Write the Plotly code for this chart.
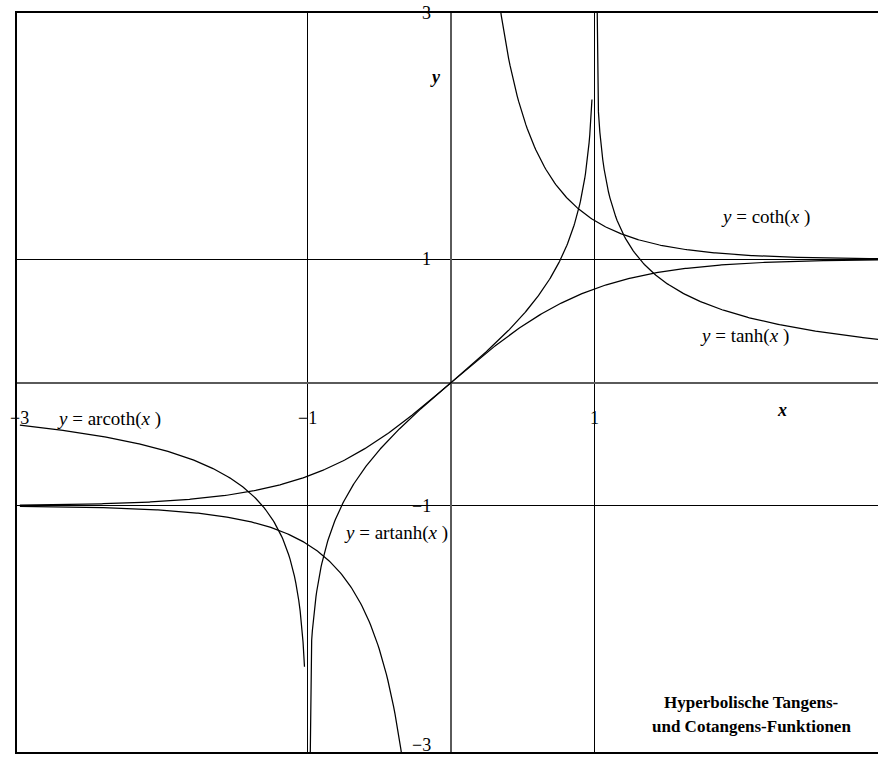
import numpy as np
import plotly.graph_objects as go

# Sample positions for each function branch
x_tanh = np.arange(-3.0, 3.0001, 0.01)
x_coth_neg = np.arange(-3.0, -0.2999, 0.01)
x_coth_pos = np.arange(0.3, 3.0001, 0.01)
x_artanh = np.concatenate([[-0.9999], np.arange(-0.975, 0.9801, 0.005)])
x_arcoth_neg = np.arange(-3.0, -1.0199, 0.01)
x_arcoth_pos = np.concatenate([[1.0002], np.arange(1.025, 3.0001, 0.01)])

# Axis tick values and their labels
x_tick_vals = [-3, -1, 1]
x_tick_text = ["\u22123", "\u22121", "1"]
y_tick_vals = [3, 1, -1, -3]
y_tick_text = ["3", "1", "\u22121", "\u22123"]

# Curve labels: (text, x, y)
curve_labels = [
    ("<i>y</i> = coth(<i>x</i> )", 2.19, 1.34),
    ("<i>y</i> = tanh(<i>x</i> )", 2.04, 0.38),
    ("<i>y</i> = arcoth(<i>x</i> )", -2.38, -0.30),
    ("<i>y</i> = artanh(<i>x</i> )", -0.38, -1.22),
]

title_lines = ["Hyperbolische Tangens-", "und Cotangens-Funktionen"]


def arcoth(x):
    return 0.5 * np.log((x + 1.0) / (x - 1.0))


FONT = "Liberation Serif, Times New Roman, serif"
line = dict(color="black", width=1.25)

fig = go.Figure()
fig.add_trace(go.Scatter(x=x_tanh, y=np.tanh(x_tanh), mode="lines", line=line))
fig.add_trace(go.Scatter(x=x_coth_neg, y=1.0 / np.tanh(x_coth_neg), mode="lines", line=line))
fig.add_trace(go.Scatter(x=x_coth_pos, y=1.0 / np.tanh(x_coth_pos), mode="lines", line=line))
fig.add_trace(go.Scatter(x=x_artanh, y=np.arctanh(x_artanh), mode="lines", line=line))
fig.add_trace(go.Scatter(x=x_arcoth_neg, y=arcoth(x_arcoth_neg), mode="lines", line=line))
fig.add_trace(go.Scatter(x=x_arcoth_pos, y=arcoth(x_arcoth_pos), mode="lines", line=line))

annotations = []
for v, t in zip(x_tick_vals, x_tick_text):
    annotations.append(dict(x=v, y=0, text=t, showarrow=False, xanchor="center",
                            yanchor="middle", yshift=-35,
                            font=dict(family=FONT, size=18, color="black")))
for v, t in zip(y_tick_vals, y_tick_text):
    # keep the lowest label inside the page
    shift_y = 7 if v == min(y_tick_vals) else 0
    annotations.append(dict(x=0, y=v, text=t, showarrow=False, xanchor="right",
                            yanchor="middle", xshift=-18, yshift=shift_y,
                            font=dict(family=FONT, size=18, color="black")))
for t, xv, yv in curve_labels:
    annotations.append(dict(x=xv, y=yv, text=t, showarrow=False, xanchor="center",
                            yanchor="middle",
                            font=dict(family=FONT, size=19, color="black")))
# Axis names
annotations.append(dict(x=0, y=2.48, text="<b><i>y</i></b>", showarrow=False,
                        xanchor="center", yanchor="middle", xshift=-16,
                        font=dict(family=FONT, size=18, color="black")))
annotations.append(dict(x=2.30, y=-0.22, text="<b><i>x</i></b>", showarrow=False,
                        xanchor="center", yanchor="middle",
                        font=dict(family=FONT, size=18, color="black")))
# Title block in the lower right
for i, t in enumerate(title_lines):
    annotations.append(dict(x=2.09, y=-2.60 - i * 0.195, text=f"<b>{t}</b>",
                            showarrow=False, xanchor="center", yanchor="middle",
                            font=dict(family=FONT, size=17, color="black")))

fig.update_layout(
    width=878, height=757,
    margin=dict(l=17, r=0, t=13, b=5),
    paper_bgcolor="white", plot_bgcolor="white",
    showlegend=False,
    annotations=annotations,
    xaxis=dict(range=[-3.02, 2.97], tickvals=[-1, 1], showticklabels=False,
               showgrid=True, gridcolor="black", gridwidth=1,
               zeroline=True, zerolinecolor="#5a5a5a", zerolinewidth=2,
               showline=True, linecolor="black", linewidth=2, mirror=True,
               ticks=""),
    yaxis=dict(range=[-3, 3], tickvals=[-1, 1], showticklabels=False,
               showgrid=True, gridcolor="black", gridwidth=1,
               zeroline=True, zerolinecolor="#5a5a5a", zerolinewidth=2,
               showline=True, linecolor="black", linewidth=2, mirror=False,
               ticks=""),
)

fig.write_html("out.html")
